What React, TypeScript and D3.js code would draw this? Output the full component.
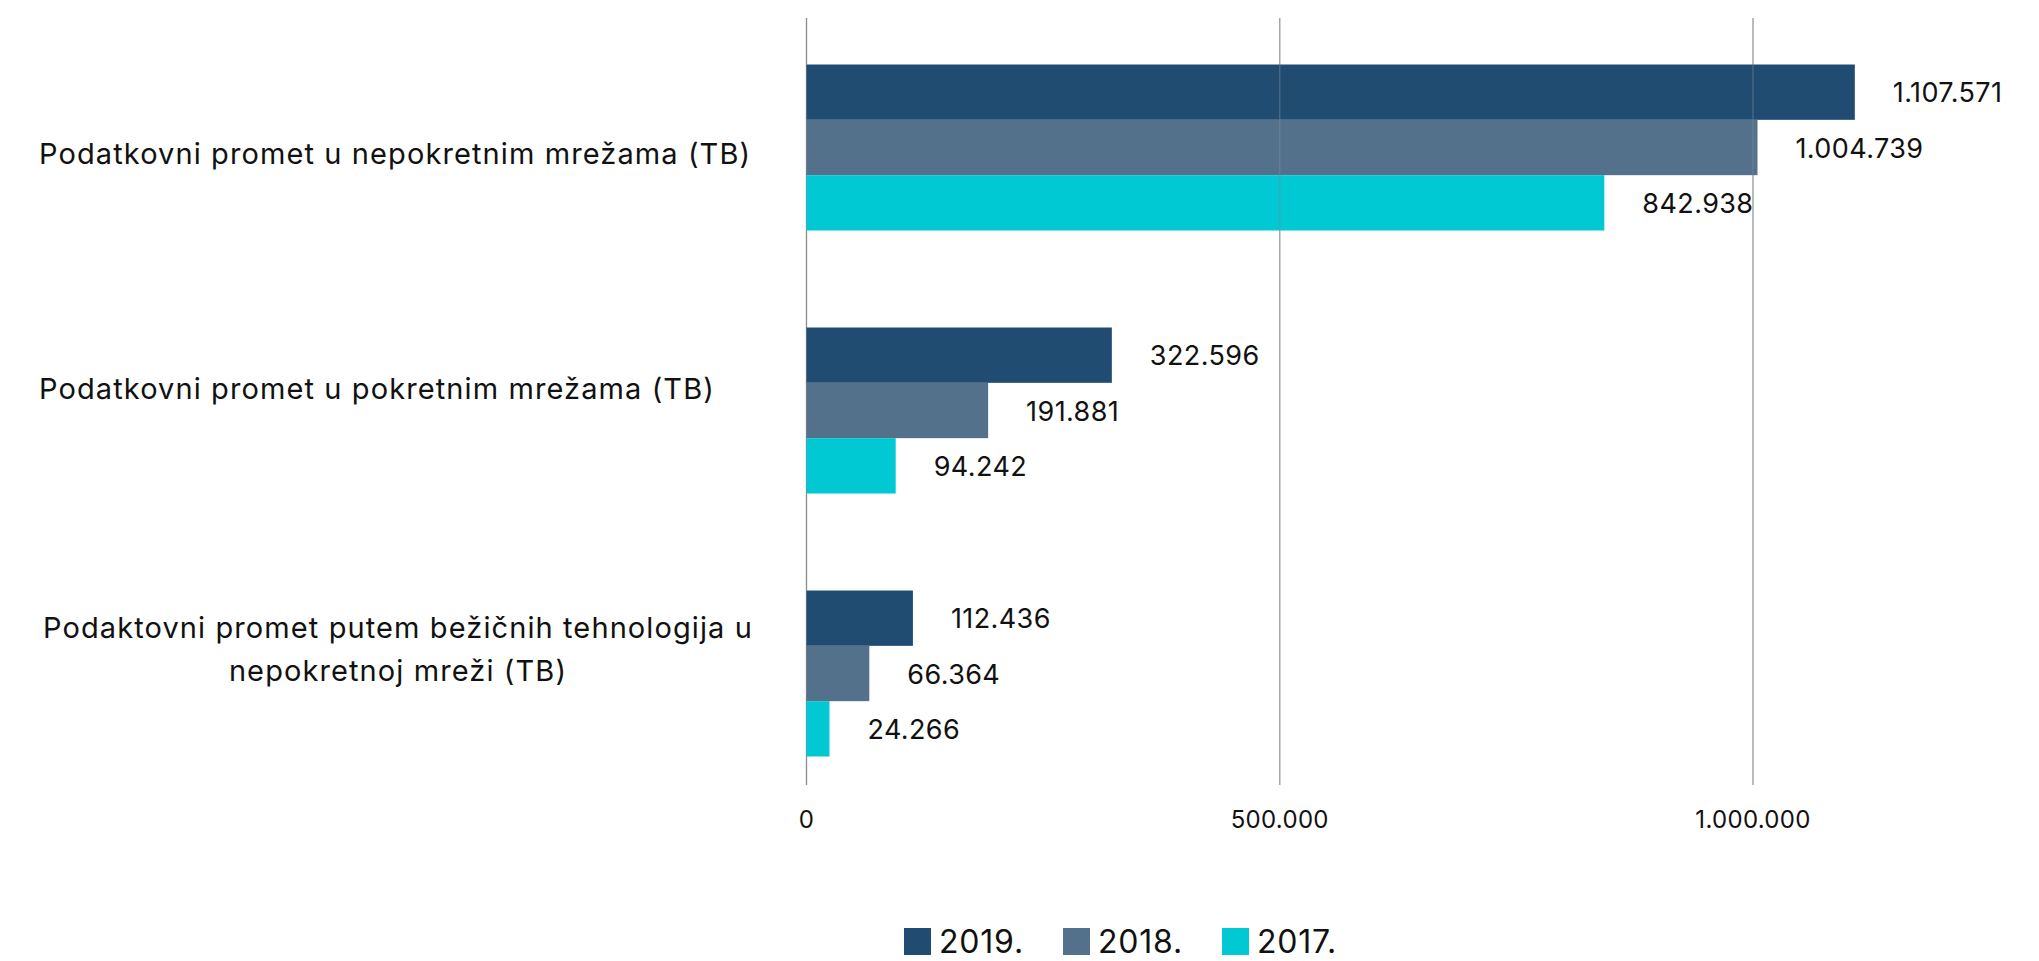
import React, { useEffect, useRef } from 'react'
import * as d3 from 'd3'

const categories = [
  'Podatkovni promet u nepokretnim mrežama (TB)',
  'Podatkovni promet u pokretnim mrežama (TB)',
  'Podaktovni promet putem bežičnih tehnologija u nepokretnoj mreži (TB)',
]
// wrapped lines as they appear on the axis
const categoryLines = [
  ['Podatkovni promet u nepokretnim mrežama (TB)'],
  ['Podatkovni promet u pokretnim mrežama (TB)'],
  ['Podaktovni promet putem bežičnih tehnologija u', 'nepokretnoj mreži (TB)'],
]
const years = ['2019.', '2018.', '2017.']
const values2019 = [1107571, 322596, 112436]
const values2018 = [1004739, 191881, 66364]
const values2017 = [842938, 94242, 24266]
const xTicks = [0, 500000, 1000000]
const colors = ['#204C72', '#54718C', '#00C9D4']

const FONT = 'Inter, "Open Sans", sans-serif'

export default function App() {
  const svgRef = useRef<SVGSVGElement>(null)

  useEffect(() => {
    const svg = d3.select(svgRef.current)
    svg.selectAll('*').remove()

    const seriesValues = [values2019, values2018, values2017]
    const fmt = (v: number) => d3.format(',')(v).replace(/,/g, '.')

    const x = d3.scaleLinear().domain([0, 1000000]).range([806.5, 1753])
    const y = d3.scaleBand().domain(categories).range([16, 805]).padding(0)
    const inner = d3.scaleBand().domain(years).range([48.5, 214.5]).padding(0)

    const gridTop = 18, gridBottom = 785

    // gridlines
    svg.append('g')
      .selectAll('line')
      .data(xTicks)
      .enter()
      .append('line')
      .attr('x1', d => x(d))
      .attr('x2', d => x(d))
      .attr('y1', gridTop)
      .attr('y2', gridBottom)
      .attr('stroke', d => (d === 0 ? '#8C8C8C' : '#BDBDBD'))
      .attr('stroke-width', 1.3)

    // bars + value labels
    years.forEach((yr, si) => {
      const g = svg.append('g')
      g.selectAll('rect')
        .data(categories)
        .enter()
        .append('rect')
        .attr('x', x(0))
        .attr('y', c => (y(c) as number) + (inner(yr) as number))
        .attr('width', (c, i) => x(seriesValues[si][i]) - x(0))
        .attr('height', inner.bandwidth())
        .attr('fill', colors[si])

      g.selectAll('text')
        .data(categories)
        .enter()
        .append('text')
        .attr('x', (c, i) => x(seriesValues[si][i]) + 38)
        .attr('y', c => (y(c) as number) + (inner(yr) as number) + inner.bandwidth() / 2 + 10)
        .attr('font-family', FONT)
        .attr('font-size', 27)
        .attr('letter-spacing', 0.4)
        .attr('fill', '#111')
        .text((c, i) => fmt(seriesValues[si][i]))
    })

    // gridlines show through the bars in the reference
    svg.append('g')
      .selectAll('line')
      .data(xTicks.filter(d => d > 0))
      .enter()
      .append('line')
      .attr('x1', d => x(d))
      .attr('x2', d => x(d))
      .attr('y1', gridTop)
      .attr('y2', gridBottom)
      .attr('stroke', '#7E8A96')
      .attr('stroke-opacity', 0.5)
      .attr('stroke-width', 1.3)

    // tick labels
    svg.append('g')
      .selectAll('text')
      .data(xTicks)
      .enter()
      .append('text')
      .attr('x', d => x(d))
      .attr('y', 828)
      .attr('text-anchor', 'middle')
      .attr('font-family', FONT)
      .attr('font-size', 24)
      .attr('letter-spacing', 0.3)
      .attr('fill', '#111')
      .text(d => fmt(d))

    // category labels
    const labelOffsets = [6, -22, -24]
    categoryLines.forEach((lines, i) => {
      const cy = (y(categories[i]) as number) + y.bandwidth() / 2 + labelOffsets[i]
      const multi = lines.length > 1
      const t = svg.append('text')
        .attr('font-family', FONT)
        .attr('font-size', 29)
        .attr('letter-spacing', 1.1)
        .attr('fill', '#111')
        .attr('text-anchor', multi ? 'middle' : 'start')
      lines.forEach((ln, li) => {
        t.append('tspan')
          .attr('x', multi ? 398 : 39)
          .attr('y', cy + 10 + (li - (lines.length - 1) / 2) * 43)
          .text(ln)
      })
    })

    // legend
    const legend = svg.append('g').attr('transform', 'translate(904,928)')
    years.forEach((yr, i) => {
      const g = legend.append('g').attr('transform', `translate(${i * 159},0)`)
      g.append('rect').attr('width', 27).attr('height', 27).attr('fill', colors[i])
      g.append('text')
        .attr('x', 35)
        .attr('y', 25)
        .attr('font-family', FONT)
        .attr('font-size', 32)
        .attr('letter-spacing', 0.8)
        .attr('fill', '#111')
        .text(yr)
    })
  }, [])

  return (
    <div style={{ position: 'absolute', left: 0, top: 0, background: '#fff' }}>
      <svg ref={svgRef} width={2039} height={961}></svg>
    </div>
  )
}
